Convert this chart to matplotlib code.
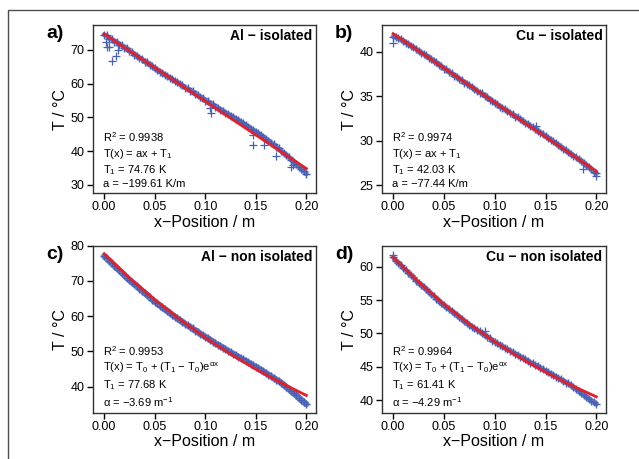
import matplotlib
matplotlib.use("Agg")
import matplotlib.pyplot as plt
from matplotlib.patches import Rectangle

plt.rcParams['font.family'] = ['Liberation Sans', 'DejaVu Sans']
plt.rcParams['mathtext.fontset'] = 'custom'
plt.rcParams['mathtext.rm'] = 'Liberation Sans'
plt.rcParams['mathtext.it'] = 'Liberation Sans:italic'
plt.rcParams['mathtext.bf'] = 'Liberation Sans:bold'

BLUE = "#4660b6"
RED = "#e41f26"

# sensor positions along the rod (m)
x_pos = [0.0, 0.0025, 0.005, 0.0075, 0.01, 0.0125, 0.015, 0.0175, 0.02, 0.0225,
         0.025, 0.0275, 0.03, 0.0325, 0.035, 0.0375, 0.04, 0.0425, 0.045, 0.0475,
         0.05, 0.0525, 0.055, 0.0575, 0.06, 0.0625, 0.065, 0.0675, 0.07, 0.0725,
         0.075, 0.0775, 0.08, 0.0825, 0.085, 0.0875, 0.09, 0.0925, 0.095, 0.0975,
         0.1, 0.1025, 0.105, 0.1075, 0.11, 0.1125, 0.115, 0.1175, 0.12, 0.1225,
         0.125, 0.1275, 0.13, 0.1325, 0.135, 0.1375, 0.14, 0.1425, 0.145, 0.1475,
         0.15, 0.1525, 0.155, 0.1575, 0.16, 0.1625, 0.165, 0.1675, 0.17, 0.1725,
         0.175, 0.1775, 0.18, 0.1825, 0.185, 0.1875, 0.19, 0.1925, 0.195, 0.1975,
         0.2]

# a) Al isolated
al_iso_T = [74.5, 74.3, 73.4, 73.3, 72.5, 72.4, 71.6, 71.4, 70.6, 70.5,
            69.6, 69.4, 68.6, 68.3, 67.6, 67.3, 66.5, 66.4, 65.6, 65.3,
            64.6, 64.1, 63.6, 63.3, 62.6, 62.3, 61.7, 61.4, 60.7, 60.5,
            59.8, 59.5, 58.8, 58.6, 57.9, 57.7, 56.9, 56.7, 56.0, 55.8,
            55.0, 54.8, 54.1, 53.9, 53.2, 52.9, 52.3, 52.0, 51.4, 51.1,
            50.5, 50.2, 49.6, 49.3, 48.6, 48.3, 47.7, 47.3, 46.7, 46.3,
            45.7, 45.3, 44.7, 44.2, 43.6, 43.1, 42.5, 42.0, 41.3, 40.8,
            40.1, 39.5, 38.8, 38.2, 37.5, 36.8, 36.1, 35.4, 34.7, 34.0,
            33.3]
al_iso_out_x = [0.002, 0.003, 0.005, 0.008, 0.012, 0.0135, 0.105, 0.106,
                0.147, 0.147, 0.158, 0.170, 0.185, 0.187]
al_iso_out_T = [72.5, 70.9, 71.0, 66.8, 68.3, 70.0, 52.7, 51.4,
                44.8, 41.7, 41.7, 38.7, 35.3, 36.0]
al_iso_fit_x = [0.0, 0.2]
al_iso_fit_T = [74.76, 34.84]

# b) Cu isolated
cu_iso_T = [41.7, 41.6, 41.5, 41.4, 41.2, 41.0, 40.9, 40.6, 40.5, 40.3,
            40.1, 39.9, 39.7, 39.6, 39.3, 39.2, 38.9, 38.8, 38.5, 38.4,
            38.1, 38.0, 37.7, 37.6, 37.3, 37.2, 36.9, 36.8, 36.5, 36.4,
            36.2, 36.0, 35.8, 35.6, 35.4, 35.3, 35.0, 34.9, 34.6, 34.5,
            34.2, 34.1, 33.8, 33.7, 33.5, 33.3, 33.1, 33.0, 32.7, 32.6,
            32.4, 32.2, 32.0, 31.9, 31.6, 31.5, 31.3, 31.1, 30.9, 30.7,
            30.5, 30.3, 30.1, 29.9, 29.7, 29.5, 29.3, 29.1, 28.9, 28.7,
            28.5, 28.3, 28.1, 27.9, 27.7, 27.5, 27.2, 27.0, 26.8, 26.5,
            26.3]
cu_iso_out_x = [0.0, 0.141, 0.187, 0.2]
cu_iso_out_T = [41.0, 31.6, 26.8, 26.0]
cu_iso_fit_x = [0.0, 0.2]
cu_iso_fit_T = [42.03, 26.54]

# c) Al non isolated
al_non_T = [77.0, 76.4, 75.6, 75.1, 74.3, 73.7, 73.0, 72.3, 71.7, 70.9,
            70.3, 69.7, 69.0, 68.5, 67.8, 67.2, 66.6, 66.0, 65.4, 64.7,
            64.1, 63.6, 63.0, 62.5, 61.9, 61.5, 60.9, 60.4, 59.8, 59.4,
            58.8, 58.4, 57.8, 57.4, 56.9, 56.5, 55.9, 55.6, 55.0, 54.6,
            54.1, 53.7, 53.2, 52.8, 52.3, 51.9, 51.5, 51.0, 50.6, 50.2,
            49.7, 49.3, 48.9, 48.5, 48.0, 47.7, 47.2, 46.9, 46.4, 46.0,
            45.6, 45.2, 44.7, 44.3, 43.8, 43.4, 42.9, 42.5, 42.0, 41.6,
            41.1, 40.5, 39.9, 39.3, 38.7, 38.1, 37.5, 36.8, 36.2, 35.6,
            35.0]
fit_x = [0.0, 0.025, 0.05, 0.075, 0.1, 0.125, 0.15, 0.175, 0.2]
al_non_fit_T = [77.7, 70.9, 64.7, 59.1, 53.9, 49.25, 44.97, 41.07, 37.5]

# d) Cu non isolated
cu_non_T = [61.4, 60.9, 60.6, 60.2, 59.8, 59.5, 59.1, 58.7, 58.4, 57.9,
            57.6, 57.3, 56.9, 56.6, 56.2, 55.9, 55.6, 55.2, 54.9, 54.5,
            54.2, 53.9, 53.6, 53.4, 53.0, 52.8, 52.4, 52.2, 51.8, 51.6,
            51.3, 51.0, 50.8, 50.5, 50.3, 50.0, 49.8, 49.5, 49.3, 48.9,
            48.7, 48.5, 48.2, 48.1, 47.8, 47.6, 47.4, 47.2, 46.9, 46.8,
            46.5, 46.3, 46.1, 45.9, 45.6, 45.5, 45.2, 45.1, 44.8, 44.6,
            44.4, 44.2, 43.9, 43.8, 43.5, 43.3, 43.1, 42.9, 42.6, 42.5,
            42.2, 41.9, 41.6, 41.4, 41.0, 40.8, 40.5, 40.2, 39.9, 39.7,
            39.4]
cu_non_out_x = [0.0, 0.09]
cu_non_out_T = [61.7, 50.3]
cu_non_fit_T = [61.41, 57.71, 54.39, 51.41, 48.74, 46.34, 44.18, 42.23, 40.49]

x_ticks = [0.0, 0.05, 0.10, 0.15, 0.20]

fig = plt.figure(figsize=(6.39, 4.59), dpi=100)

# outer frame, cropped at right and bottom like the source
fig.add_artist(Rectangle((8 / 639, -0.1), 1.0, 1.0 - 10 / 459 + 0.1,
                         transform=fig.transFigure, fill=False,
                         edgecolor="#4d4d4d", linewidth=1.0))

panels = [
    # label, title, rect, T data, outliers, fit, ylim, yticks, notes, band width
    ("a)", "Al \u2212 isolated", [0.1455, 0.5795, 0.349, 0.366],
     al_iso_T, (al_iso_out_x, al_iso_out_T), (al_iso_fit_x, al_iso_fit_T),
     (27.6, 77.4), [30, 40, 50, 60, 70],
     ["R$^{2}$ = 0.9938", "T(x) = ax + T$_{1}$", "T$_{1}$ = 74.76 K",
      "a = \u2212199.61 K/m"], 3.5),
    ("b)", "Cu \u2212 isolated", [0.5978, 0.5795, 0.3505, 0.366],
     cu_iso_T, (cu_iso_out_x, cu_iso_out_T), (cu_iso_fit_x, cu_iso_fit_T),
     (24.1, 43.0), [25, 30, 35, 40],
     ["R$^{2}$ = 0.9974", "T(x) = ax + T$_{1}$", "T$_{1}$ = 42.03 K",
      "a = \u221277.44 K/m"], 3.5),
    ("c)", "Al \u2212 non isolated", [0.1455, 0.1009, 0.349, 0.3638],
     al_non_T, None, (fit_x, al_non_fit_T),
     (32.6, 80.0), [40, 50, 60, 70, 80],
     ["R$^{2}$ = 0.9953",
      "T(x) = T$_{0}$ + (T$_{1}$ \u2212 T$_{0}$)e$^{\\mathrm{\\alpha x}}$",
      "T$_{1}$ = 77.68 K", "\u03b1 = \u22123.69 m$^{\\mathrm{-1}}$"], 4.5),
    ("d)", "Cu \u2212 non isolated", [0.5978, 0.1009, 0.3505, 0.3638],
     cu_non_T, (cu_non_out_x, cu_non_out_T), (fit_x, cu_non_fit_T),
     (38.1, 63.15), [40, 45, 50, 55, 60],
     ["R$^{2}$ = 0.9964",
      "T(x) = T$_{0}$ + (T$_{1}$ \u2212 T$_{0}$)e$^{\\mathrm{\\alpha x}}$",
      "T$_{1}$ = 61.41 K", "\u03b1 = \u22124.29 m$^{\\mathrm{-1}}$"], 3.5),
]

for label, title, rect, temps, outliers, fit, ylim, yticks, notes, band in panels:
    ax = fig.add_axes(rect)

    # dense measurement band: translucent trace plus the + markers
    ax.plot(x_pos, temps, color=BLUE, linewidth=band, alpha=0.75,
            solid_capstyle="round")
    ax.plot(x_pos, temps, linestyle="none", marker="+", markersize=6,
            markeredgewidth=1.0, color=BLUE)
    if outliers is not None:
        ax.plot(outliers[0], outliers[1], linestyle="none", marker="+",
                markersize=6, markeredgewidth=0.9, color=BLUE)
    ax.plot(fit[0], fit[1], color=RED, linewidth=2.0, zorder=5)

    ax.set_xlim(-0.011, 0.2095)
    ax.set_ylim(*ylim)
    ax.set_xticks(x_ticks)
    ax.set_xticklabels([f"{v:.2f}" for v in x_ticks])
    ax.set_yticks(yticks)
    ax.tick_params(direction="out", length=4, width=1, labelsize=9,
                   pad=2, colors="black")
    for spine in ax.spines.values():
        spine.set_linewidth(1.0)
        spine.set_color("#333333")

    ax.set_xlabel("x\u2212Position / m", fontsize=11.5, labelpad=1)
    ax.set_ylabel("T / \u00b0C", fontsize=11.5, labelpad=2)

    ax.text(0.985, 0.975, title, transform=ax.transAxes, ha="right",
            va="top", fontsize=10, fontweight="bold")
    ax.text(0.045, 0.025, "\n".join(notes), transform=ax.transAxes,
            ha="left", va="bottom", fontsize=8, linespacing=1.25)

    ax.text(-0.21, 1.0, label, transform=ax.transAxes, ha="left",
            va="top", fontsize=14, fontweight="bold")

fig.savefig("out.png", dpi=100)
